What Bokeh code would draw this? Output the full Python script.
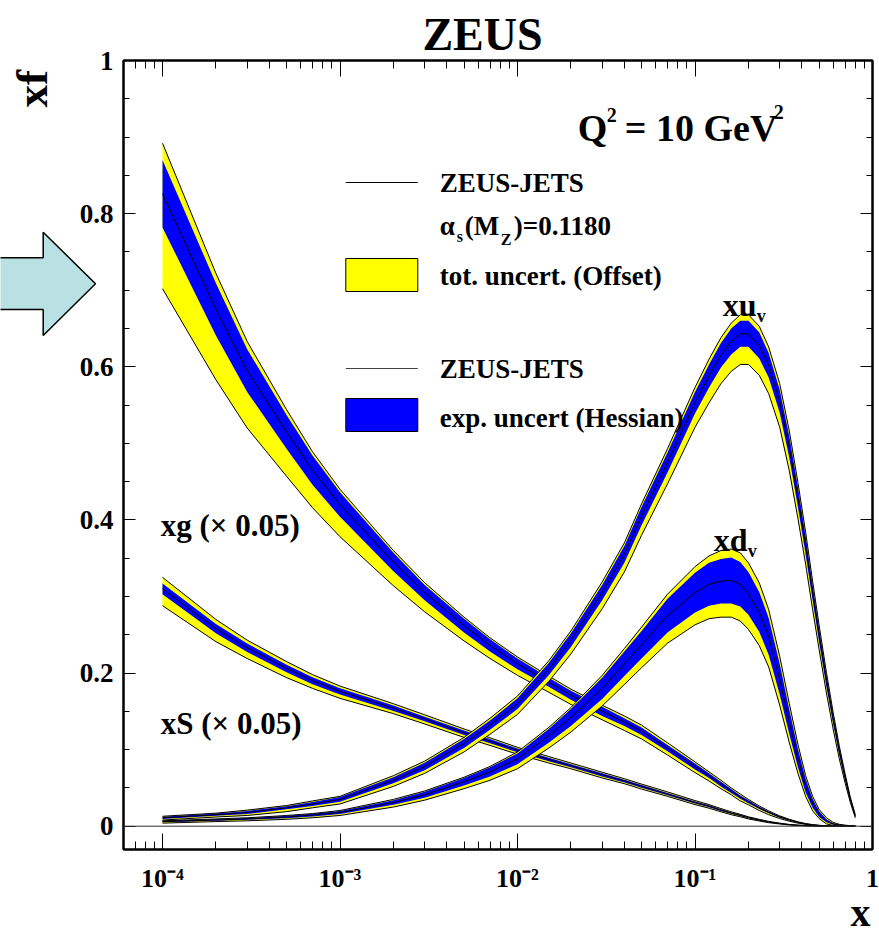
import math
import numpy as np
from bokeh.plotting import figure
from bokeh.models import (Range1d, LogAxis, LinearAxis, FixedTicker, Span, Label,
                          BoxAnnotation)
from bokeh.core.properties import value
from bokeh.embed import file_html
from bokeh.resources import INLINE

# ---------------- data ----------------
x_vals = [1e-4, 2e-4, 3e-4, 5e-4, 7e-4,
          1e-3, 2e-3, 3e-3, 5e-3, 7e-3,
          1e-2, 1.5e-2, 2e-2, 3e-2, 4e-2, 5e-2, 7e-2,
          0.1, 0.12, 0.14, 0.16, 0.18, 0.2,
          0.23, 0.26, 0.3, 0.34, 0.38, 0.42, 0.46, 0.5,
          0.55, 0.6, 0.65, 0.7, 0.75, 0.8]

# xu_v : central value, total (yellow) up / down, experimental (blue) half width
xuv_c = [0.011, 0.015, 0.018, 0.024, 0.029,
         0.035, 0.060, 0.078, 0.108, 0.132,
         0.160, 0.205, 0.243, 0.305, 0.355, 0.405, 0.475,
         0.553, 0.588, 0.615, 0.633, 0.643, 0.643,
         0.628, 0.602, 0.555, 0.495, 0.430, 0.367, 0.305, 0.250,
         0.190, 0.140, 0.098, 0.064, 0.035, 0.013]
xuv_yu = [0.002, 0.002, 0.003, 0.003, 0.004,
          0.004, 0.006, 0.007, 0.008, 0.009,
          0.010, 0.011, 0.012, 0.014, 0.015, 0.016, 0.018,
          0.020, 0.022, 0.023, 0.024, 0.025, 0.025,
          0.025, 0.024, 0.023, 0.021, 0.019, 0.017, 0.015, 0.013,
          0.011, 0.009, 0.007, 0.005, 0.003, 0.002]
xuv_yd = [0.003, 0.003, 0.004, 0.005, 0.005,
          0.006, 0.008, 0.009, 0.011, 0.012,
          0.014, 0.016, 0.018, 0.021, 0.023, 0.025, 0.028,
          0.032, 0.035, 0.037, 0.039, 0.040, 0.040,
          0.039, 0.037, 0.034, 0.031, 0.028, 0.025, 0.022, 0.019,
          0.016, 0.013, 0.010, 0.007, 0.004, 0.002]
xuv_b = [0.0015, 0.0015, 0.002, 0.002, 0.0025,
         0.003, 0.004, 0.005, 0.006, 0.006,
         0.007, 0.008, 0.009, 0.010, 0.011, 0.012, 0.013,
         0.014, 0.015, 0.016, 0.017, 0.017, 0.017,
         0.017, 0.016, 0.015, 0.014, 0.013, 0.012, 0.010, 0.009,
         0.008, 0.006, 0.005, 0.004, 0.003, 0.002]

# xd_v
xdv_c = [0.006, 0.008, 0.0095, 0.012, 0.0145,
         0.018, 0.031, 0.041, 0.058, 0.071,
         0.088, 0.118, 0.142, 0.180, 0.212, 0.237, 0.275,
         0.305, 0.316, 0.320, 0.321, 0.316, 0.304,
         0.280, 0.248, 0.192, 0.136, 0.089, 0.053, 0.030, 0.016,
         0.007, 0.003, 0.0015, 0.0008, 0.0004, 0.0002]
xdv_yu = [0.001, 0.0015, 0.0015, 0.002, 0.002,
          0.0025, 0.004, 0.005, 0.006, 0.007,
          0.009, 0.011, 0.013, 0.017, 0.020, 0.023, 0.028,
          0.034, 0.037, 0.040, 0.041, 0.041, 0.040,
          0.038, 0.035, 0.030, 0.024, 0.018, 0.013, 0.009, 0.006,
          0.004, 0.002, 0.001, 0.0006, 0.0003, 0.0002]
xdv_yd = [0.002, 0.002, 0.0025, 0.003, 0.0035,
          0.004, 0.006, 0.007, 0.009, 0.011,
          0.013, 0.016, 0.019, 0.023, 0.027, 0.030, 0.036,
          0.042, 0.045, 0.047, 0.048, 0.048, 0.047,
          0.044, 0.040, 0.034, 0.027, 0.020, 0.014, 0.010, 0.006,
          0.004, 0.002, 0.001, 0.0006, 0.0003, 0.0002]
xdv_b = [0.001, 0.001, 0.0012, 0.0015, 0.0018,
         0.002, 0.003, 0.004, 0.005, 0.006,
         0.007, 0.009, 0.011, 0.014, 0.016, 0.018, 0.022,
         0.026, 0.028, 0.029, 0.030, 0.029, 0.028,
         0.026, 0.024, 0.020, 0.016, 0.012, 0.009, 0.006, 0.004,
         0.002, 0.001, 0.0006, 0.0003, 0.0002, 0.0001]

# xg (x 0.05)
xg_c = [0.826, 0.675, 0.595, 0.515, 0.465,
        0.420, 0.345, 0.305, 0.262, 0.236,
        0.212, 0.188, 0.171, 0.150, 0.136, 0.124, 0.102,
        0.078, 0.066, 0.055, 0.046, 0.038, 0.032,
        0.024, 0.018, 0.012, 0.008, 0.005, 0.003, 0.0018, 0.001,
        0.0005, 0.0002, 0.0001, 0.0, 0.0, 0.0]
xg_yu = [0.066, 0.047, 0.038, 0.029, 0.024,
         0.020, 0.015, 0.013, 0.011, 0.010,
         0.009, 0.008, 0.008, 0.008, 0.008, 0.008, 0.007,
         0.006, 0.005, 0.005, 0.004, 0.004, 0.003,
         0.0025, 0.002, 0.0015, 0.001, 0.0008, 0.0005, 0.0003, 0.0002,
         0.0001, 0.0001, 0.0, 0.0, 0.0, 0.0]
xg_yd = [0.124, 0.092, 0.075, 0.058, 0.049,
         0.042, 0.031, 0.025, 0.020, 0.017,
         0.015, 0.013, 0.012, 0.011, 0.011, 0.010, 0.009,
         0.008, 0.007, 0.006, 0.005, 0.005, 0.004,
         0.0035, 0.003, 0.002, 0.0015, 0.001, 0.0007, 0.0004, 0.0003,
         0.0001, 0.0001, 0.0, 0.0, 0.0, 0.0]
xg_b = [0.044, 0.034, 0.028, 0.022, 0.019,
        0.016, 0.012, 0.010, 0.009, 0.008,
        0.007, 0.006, 0.006, 0.006, 0.005, 0.005, 0.004,
        0.004, 0.003, 0.003, 0.0025, 0.002, 0.002,
        0.0015, 0.0012, 0.001, 0.0007, 0.0005, 0.0003, 0.0002, 0.0001,
        0.0, 0.0, 0.0, 0.0, 0.0, 0.0]

# xS (x 0.05)
xs_c = [0.310, 0.258, 0.233, 0.206, 0.190,
        0.176, 0.154, 0.140, 0.122, 0.111,
        0.099, 0.087, 0.079, 0.067, 0.059, 0.052, 0.042,
        0.031, 0.026, 0.021, 0.017, 0.014, 0.011,
        0.008, 0.0055, 0.0035, 0.002, 0.0012, 0.0007, 0.0004, 0.0002,
        0.0001, 0.0, 0.0, 0.0, 0.0, 0.0]
xs_yu = [0.015, 0.012, 0.010, 0.009, 0.008,
         0.007, 0.006, 0.0055, 0.005, 0.0045,
         0.004, 0.004, 0.0035, 0.0035, 0.003, 0.003, 0.0028,
         0.0025, 0.0022, 0.002, 0.0018, 0.0015, 0.0013,
         0.001, 0.0008, 0.0005, 0.0003, 0.0002, 0.0001, 0.0001, 0.0,
         0.0, 0.0, 0.0, 0.0, 0.0, 0.0]
xs_yd = [0.022, 0.017, 0.014, 0.012, 0.010,
         0.009, 0.007, 0.0065, 0.006, 0.0055,
         0.005, 0.0045, 0.004, 0.004, 0.0035, 0.0035, 0.003,
         0.0028, 0.0025, 0.0022, 0.002, 0.0017, 0.0015,
         0.0012, 0.0009, 0.0006, 0.0004, 0.0002, 0.0001, 0.0001, 0.0,
         0.0, 0.0, 0.0, 0.0, 0.0, 0.0]
xs_b = [0.007, 0.006, 0.0055, 0.005, 0.0045,
        0.004, 0.0035, 0.003, 0.003, 0.0028,
        0.0025, 0.0023, 0.002, 0.002, 0.0018, 0.0017, 0.0015,
        0.0013, 0.0012, 0.001, 0.0009, 0.0008, 0.0007,
        0.0005, 0.0004, 0.0003, 0.0002, 0.0001, 0.0, 0.0, 0.0,
        0.0, 0.0, 0.0, 0.0, 0.0, 0.0]

y_ticks = [0, 0.2, 0.4, 0.6, 0.8, 1.0]
y_tick_labels = ["0", "0.2", "0.4", "0.6", "0.8", "1"]
x_ticks = [1e-4, 1e-3, 1e-2, 1e-1, 1.0]
x_tick_labels = ["10\u207b\u2074", "10\u207b\u00b3", "10\u207b\u00b2", "10\u207b\u00b9", "1"]

# ---------------- layout helpers (reference pixel -> data) ----------------
def dx(px):
    return 10 ** ((px - 161.7) / 177.5 - 4)

def dy(py):
    return (825.7 - py) / 765.7

FONT = "Liberation Serif"
YELLOW = "#ffff00"
BLUE = "#0000ff"
W, H = 879, 943
K_LABEL = 0.26   # measured downward offset of the rendered text baseline (fraction of font size)
K_OVER = 0.33

p = figure(width=W, height=H, x_axis_type="log", title=None,
           x_range=Range1d(dx(122.7), 1.0), y_range=Range1d(dy(849), 1.0),
           output_backend="svg", toolbar_location=None,
           min_border_left=123, min_border_right=7, min_border_top=60, min_border_bottom=94)
p.grid.visible = False
p.outline_line_color = "black"
p.outline_line_width = 2
p.background_fill_color = "white"
p.border_fill_color = "white"

minor_x = []
for e in range(-5, 0):
    for k in range(2, 10):
        v = k * 10 ** e
        if v > dx(122.7):
            minor_x.append(v)
minor_y = [round(0.05 * i, 2) for i in range(0, 21)]


def style_axis(ax, major, minor, show_labels):
    ax.axis_line_width = 2
    ax.axis_line_color = "black"
    ax.major_tick_in = major
    ax.major_tick_out = 0
    ax.minor_tick_in = minor
    ax.minor_tick_out = 0
    ax.major_tick_line_color = "black"
    ax.minor_tick_line_color = "black"
    ax.major_tick_line_width = 1
    ax.minor_tick_line_width = 1
    if show_labels:
        ax.major_label_text_font = FONT
        ax.major_label_text_font_style = "bold"
        ax.major_label_text_color = "black"
    else:
        ax.major_label_text_font_size = "0px"
        ax.major_label_standoff = 0
        ax.major_label_text_color = None


bx = p.xaxis[0]
bx.ticker = FixedTicker(ticks=x_ticks, minor_ticks=minor_x)
style_axis(bx, 16, 8, True)
bx.major_label_overrides = {t: s for t, s in zip(x_ticks, x_tick_labels)}
bx.major_label_text_font_size = "26px"
bx.major_label_standoff = 14

ly = p.yaxis[0]
ly.ticker = FixedTicker(ticks=y_ticks, minor_ticks=minor_y)
style_axis(ly, 12, 6, True)
ly.major_label_overrides = {t: s for t, s in zip(y_ticks, y_tick_labels)}
ly.major_label_text_font_size = "27px"
ly.major_label_standoff = 10

top_ax = LogAxis(ticker=FixedTicker(ticks=x_ticks, minor_ticks=minor_x))
style_axis(top_ax, 16, 8, False)
p.add_layout(top_ax, "above")
right_ax = LinearAxis(ticker=FixedTicker(ticks=y_ticks, minor_ticks=minor_y))
style_axis(right_ax, 12, 6, False)
p.add_layout(right_ax, "right")

p.add_layout(Span(location=0, dimension="width", line_color="#333333", line_width=1))

# ---------------- bands ----------------
def band(c, yu, yd, b):
    c = np.array(c); yu = np.array(yu); yd = np.array(yd); b = np.array(b)
    p.varea(x=x_vals, y1=c - yd, y2=c + yu, fill_color=YELLOW)
    p.varea(x=x_vals, y1=c - b, y2=c + b, fill_color=BLUE)
    p.line(x_vals, c + yu, line_color="black", line_width=1)
    p.line(x_vals, c - yd, line_color="black", line_width=1)
    p.line(x_vals, c, line_color="black", line_width=1)

band(xs_c, xs_yu, xs_yd, xs_b)
band(xg_c, xg_yu, xg_yd, xg_b)
band(xdv_c, xdv_yu, xdv_yd, xdv_b)
band(xuv_c, xuv_yu, xuv_yd, xuv_b)

# ---------------- texts inside the frame ----------------
def lab(px, py, text, size, align="left"):
    p.add_layout(Label(x=dx(px), y=dy(py - K_LABEL * size), text=text, text_font=FONT,
                       text_font_style="bold", text_font_size=f"{size}px",
                       text_align=align, text_baseline="alphabetic",
                       text_color="black"))

# Q^2 label
lab(577, 137.6, "Q", 38)
lab(606, 120, "2", 20)
lab(624, 137.6, "= 10 GeV", 38)
lab(773, 117, "2", 20)

# legend
p.segment(x0=[dx(345)], y0=[dy(182)], x1=[dx(417)], y1=[dy(182)], line_color="black", line_width=1)
lab(439, 190, "ZEUS-JETS", 27)
lab(439, 233, "\u03b1", 27)
lab(456, 240, "s", 16)
lab(464, 233, "(M", 27)
lab(500, 243, "Z", 16)
lab(513, 233, ")=0.1180", 27)
p.add_layout(BoxAnnotation(left=dx(345), right=dx(417), top=dy(258), bottom=dy(291),
                           fill_color=YELLOW, fill_alpha=1, line_color="black", line_width=1,
                           line_alpha=1))
lab(439, 283, "tot. uncert. (Offset)", 27)
p.segment(x0=[dx(345)], y0=[dy(368)], x1=[dx(417)], y1=[dy(368)], line_color="#444444", line_width=1)
lab(439, 376, "ZEUS-JETS", 27)
p.add_layout(BoxAnnotation(left=dx(345), right=dx(417), top=dy(398), bottom=dy(431),
                           fill_color=BLUE, fill_alpha=1, line_color="black", line_width=1,
                           line_alpha=1))
lab(439, 425, "exp. uncert (Hessian)", 27)

# curve labels
lab(722, 313, "xu", 32)
lab(756, 320, "v", 18)
lab(713, 548, "xd", 32)
lab(747, 555, "v", 18)
lab(160, 533, "xg (\u00d7 0.05)", 31)
lab(160, 731, "xS (\u00d7 0.05)", 31)

# ---------------- overlay (separate root) for texts and arrow outside the frame ----------------
ov = figure(width=W, height=H, x_range=Range1d(0, W), y_range=Range1d(H, 0),
            x_axis_location=None, y_axis_location=None, title=None,
            min_border=0, output_backend="svg", toolbar_location=None,
            background_fill_color=None, border_fill_color=None, outline_line_color=None,
            styles={"position": "absolute", "left": "0px", "top": "0px",
                    "z-index": "10", "pointer-events": "none"})
ov.grid.visible = False

arrow_x = [-4, 42.7, 42.7, 95, 42.7, 42.7, -4]
arrow_y = [257.3, 257.3, 231.7, 283.3, 335, 309, 309]
ov.patch(arrow_x, arrow_y, fill_color="#b9e0e3", line_color="black", line_width=1.5)

def otext(x, y, t, size, align="left", angle=0.0):
    ov.text(x=[x], y=[y], text=[t], text_font=value(FONT), text_font_style="bold",
            text_font_size=f"{size}px", text_align=align, text_baseline="alphabetic",
            text_color="black", angle=angle)

otext(482, 49 - K_OVER * 46, "ZEUS", 46, align="center")
otext(48 - 0.37 * 45, 107, "xf", 45, angle=math.pi / 2)
otext(870, 912, "x", 40, align="right")

open("out.html", "w").write(file_html([p, ov], INLINE))
